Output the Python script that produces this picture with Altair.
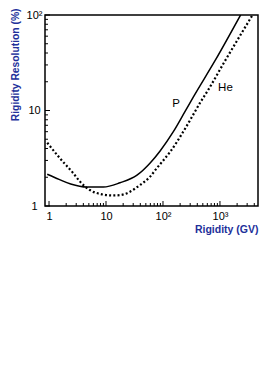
import altair as alt
import pandas as pd

# Proton (solid) curve
p_rigidity = [0.93, 1.5, 2.4, 4.6, 9, 17.6, 35, 59, 89, 152, 240, 340, 814, 2300]
p_resolution = [2.15, 1.90, 1.70, 1.58, 1.58, 1.75, 2.1, 2.8, 3.77, 6.0, 9.6, 13.8, 33, 100]

# Helium (dotted) curve
he_rigidity = [0.93, 1.56, 2.67, 3.5, 5.2, 7.8, 13.4, 17.6, 26.4, 39.5, 59, 77, 101, 133,
               227, 298, 446, 624, 1224, 3730]
he_resolution = [4.6, 3.15, 2.2, 1.8, 1.47, 1.34, 1.29, 1.30, 1.41, 1.66, 2.02, 2.47, 3.0, 3.68,
                 6.0, 7.9, 12, 16.5, 33, 100]

# Curve labels
label_text = ["P", "He"]
label_x = [169, 1248]
label_y = [11.8, 17.4]

# Axis ticks
x_major = [1, 10, 100, 1000]
x_minor = [2, 3, 4, 5, 6, 7, 8, 9, 20, 30, 40, 50, 60, 70, 80, 90,
           200, 300, 400, 500, 600, 700, 800, 900, 2000, 3000, 4000]
y_major = [1, 10, 100]
y_minor = [2, 3, 4, 5, 6, 7, 8, 9, 20, 30, 40, 50, 60, 70, 80, 90]

W, H = 213, 191
FONT = "Liberation Sans"
TITLE_COLOR = "#22309a"

xs = alt.Scale(type="log", domain=[0.85, 4650], nice=False)
ys = alt.Scale(type="log", domain=[1, 100], nice=False)

p_df = pd.DataFrame({"r": p_rigidity, "res": p_resolution})
he_df = pd.DataFrame({"r": he_rigidity, "res": he_resolution})
lab_df = pd.DataFrame({"t": label_text, "r": label_x, "res": label_y})

x_axis = alt.Axis(
    values=x_major, ticks=False, domain=False, grid=False,
    labelExpr="datum.value == 1 ? '1' : datum.value == 10 ? '10' : datum.value == 100 ? '10²' : '10³'",
    labelFont=FONT, labelFontSize=11, labelColor="black", labelPadding=4,
    title="Rigidity (GV)", titleFont=FONT, titleFontSize=10.5, titleFontWeight="bold",
    titleColor=TITLE_COLOR, titleAlign="right", titleX=W, titleY=18, titleBaseline="top",
)
y_axis = alt.Axis(
    values=y_major, ticks=False, domain=False, grid=False,
    labelExpr="datum.value == 1 ? '1' : datum.value == 10 ? '10' : '10²'",
    labelFont=FONT, labelFontSize=11, labelColor="black", labelPadding=11,
    labelAlign="center", labelBaseline="middle",
    title="Rigidity Resolution (%)", titleFont=FONT, titleFontSize=10.3, titleFontWeight="bold",
    titleColor=TITLE_COLOR, titleAngle=-90, titleAlign="right", titleBaseline="middle",
    titleX=-30, titleY=-7,
)


def X(field):
    return alt.X(field, scale=xs, axis=x_axis)


def Y(field):
    return alt.Y(field, scale=ys, axis=y_axis)


p_line = alt.Chart(p_df).mark_line(color="black", strokeWidth=1.5, interpolate="monotone", clip=True).encode(
    x=X("r:Q"), y=Y("res:Q"),
)
he_line = alt.Chart(he_df).mark_line(color="black", strokeWidth=2.2, strokeDash=[2, 2.2],
                                     interpolate="monotone", clip=True).encode(
    x=X("r:Q"), y=Y("res:Q"),
)
labels = alt.Chart(lab_df).mark_text(font=FONT, fontSize=11.5, color="black").encode(
    x=X("r:Q"), y=Y("res:Q"), text="t:N",
)

xmaj = alt.Chart(pd.DataFrame({"r": x_major})).mark_rule(color="black", strokeWidth=1).encode(
    x=X("r:Q"), y=alt.value(H), y2=alt.value(H - 5))
xmin = alt.Chart(pd.DataFrame({"r": x_minor})).mark_rule(color="black", strokeWidth=1).encode(
    x=X("r:Q"), y=alt.value(H), y2=alt.value(H - 3))
ymaj = alt.Chart(pd.DataFrame({"res": y_major})).mark_rule(color="black", strokeWidth=1).encode(
    y=Y("res:Q"), x=alt.value(0), x2=alt.value(5))
ymin = alt.Chart(pd.DataFrame({"res": y_minor})).mark_rule(color="black", strokeWidth=1).encode(
    y=Y("res:Q"), x=alt.value(0), x2=alt.value(3))

chart = alt.layer(p_line, he_line, labels, xmaj, xmin, ymaj, ymin).properties(
    width=W, height=H,
    autosize=alt.AutoSizeParams(type="none"),
    padding={"left": 37, "top": 7, "right": 8, "bottom": 40},
    background="white",
).configure_view(stroke="black", strokeWidth=1.5)

chart.save("out.html", embed_options={"renderer": "svg", "actions": False})
